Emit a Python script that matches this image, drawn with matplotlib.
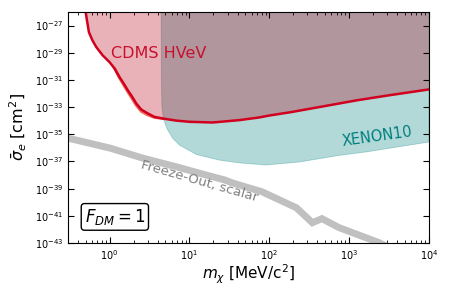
import numpy as np
import matplotlib
matplotlib.use('Agg')
import matplotlib.pyplot as plt

# limites de exclusion
cdms_m = [0.50, 0.52, 0.55, 0.61, 0.68, 0.82, 1.0, 1.155, 1.33, 1.50, 1.69, 1.92, 2.16, 2.49, 3.01,
          3.65, 4.63, 6.8, 10, 19.5, 42, 75, 100, 188, 500, 1260, 3160, 1e4]
cdms_sigma = [1e-26, 2.3e-27, 3.2e-28, 7.9e-29, 2.6e-29, 6.3e-30, 2.0e-30, 6.8e-31, 1.6e-31, 5.4e-32,
              1.7e-32, 5.6e-33, 1.8e-33, 6.6e-34, 3.4e-34, 1.9e-34, 1.45e-34, 1.02e-34, 8.3e-35, 7.4e-35,
              1.1e-34, 1.74e-34, 2.4e-34, 4.3e-34, 1.2e-33, 3.2e-33, 7.4e-33, 2.0e-32]

cdms_alt_m = [1.155, 1.33, 1.69, 2.16, 2.49, 3.01, 3.65, 4.63]
cdms_alt_sigma = [6.8e-31, 1.35e-31, 1.3e-32, 1.3e-33, 4.8e-34, 2.6e-34, 1.7e-34, 1.45e-34]

xenon_m = [4.42, 4.45, 4.52, 4.73, 5.25, 6.17, 7.5, 12.3, 23.7, 42, 91, 237, 750, 1620, 1e4]
xenon_sigma = [1e-26, 1e-31, 1e-33, 1.26e-34, 2.5e-35, 5.0e-36, 1.6e-36, 3.2e-37, 1.26e-37, 7.9e-38,
               5.5e-38, 9.1e-38, 2.8e-37, 5.0e-37, 2.7e-36]

fo_m = [0.30, 1.0, 2.57, 6.9, 16.2, 27.5, 34.7, 81, 219, 347, 457, 750, 2370, 4000]
fo_sigma = [5.2e-36, 9.8e-37, 1.8e-37, 4.0e-38, 1.0e-38, 4.4e-39, 2.6e-39, 5.9e-40, 3.9e-41,
            3.1e-42, 6.2e-42, 1.35e-42, 1.07e-43, 2.5e-44]

xlim = (0.3, 1e4)
ylim = (1e-43, 1e-26)

fig = plt.figure(figsize=(4.5, 3), dpi=100)
ax = fig.add_axes([0.151, 0.19, 0.802, 0.77])

# XENON10
ax.fill(xenon_m + [xlim[1], xenon_m[0]], xenon_sigma + [ylim[1], ylim[1]],
        color='teal', alpha=0.3, lw=0.6, edgecolor=(0, 0.5, 0.5, 0.5))

# CDMS HVeV
ax.plot(cdms_alt_m, cdms_alt_sigma, color='#F26A5A', lw=2.0)
ax.fill(cdms_m + [xlim[1]], cdms_sigma + [ylim[1]], color='#B40016', alpha=0.3, lw=0)
ax.plot(cdms_m, cdms_sigma, color='#D0001E', lw=1.8)

# freeze-out
ax.plot(fo_m, fo_sigma, color='#C0C0C0', lw=5, solid_joinstyle='miter')

ax.set_xscale('log')
ax.set_yscale('log')
ax.set_xlim(*xlim)
ax.set_ylim(*ylim)
ax.set_yticks([10.0**e for e in range(-43, -26, 2)])
ax.yaxis.set_minor_locator(matplotlib.ticker.NullLocator())
ax.xaxis.set_minor_locator(matplotlib.ticker.LogLocator(base=10, subs=np.arange(2, 10)))
ax.tick_params(which='both', direction='in', top=True, right=True, labelsize=7)
ax.tick_params(which='major', length=4)
ax.tick_params(which='minor', length=2)

ax.set_xlabel(r'$m_\chi$ [MeV/c$^2$]', fontsize=11, labelpad=1)
ax.set_ylabel(r'$\bar{\sigma}_e$ [cm$^2$]', fontsize=11.5, labelpad=4)

ax.text(4.1, 9e-30, 'CDMS HVeV', color='#C8102E', fontsize=11.5, ha='center', va='center')
ax.text(2240, 6.3e-36, 'XENON10', color='teal', fontsize=10.5, ha='center', va='center', rotation=8)
ax.text(13.5, 3.2e-39, 'Freeze-Out, scalar', color='gray', fontsize=9.5, ha='center', va='center', rotation=-16)
ax.text(0.13, 0.113, r'$F_{DM}=1$', transform=ax.transAxes, fontsize=12, ha='center', va='center',
        bbox=dict(boxstyle='round,pad=0.2', fc='white', ec='black'))

fig.savefig('out.png', dpi=100)
